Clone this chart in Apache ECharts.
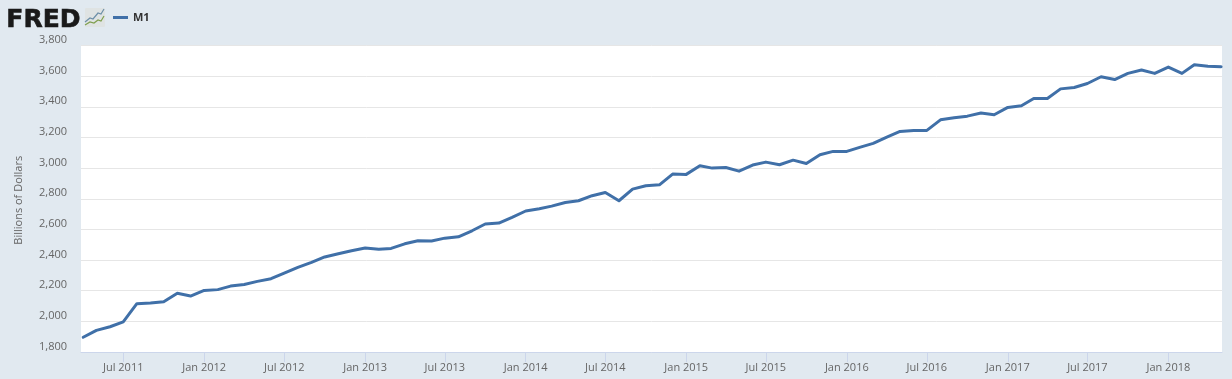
<!DOCTYPE html>
<html>
<head>
<meta charset="utf-8">
<style>html,body{margin:0;padding:0;background:#e1e9f0}#c{width:1232px;height:379px}</style>
<script src="https://cdn.jsdelivr.net/npm/echarts@6/dist/echarts.min.js"></script>
</head>
<body>
<div id="c"></div>
<script>
const seriesName = 'M1';
const yAxisTitle = 'Billions of Dollars';
const startYear = 2011, startMonth = 3; // first value is Apr 2011
const m1Values = [
  1896,1941,1965,1996,2115,2120,2128,2183,2165,
  2202,2207,2230,2241,2261,2278,2315,2352,2385,2420,2441,2461,
  2478,2470,2476,2506,2526,2524,2543,2552,2591,2635,2641,2678,
  2720,2735,2752,2776,2787,2820,2841,2787,2863,2885,2891,2961,
  2959,3015,3000,3004,2980,3020,3039,3022,3052,3030,3087,3109,
  3109,3137,3161,3202,3239,3246,3246,3315,3328,3339,3359,3348,
  3396,3407,3454,3454,3517,3526,3552,3596,3578,3618,3640,3618,
  3659,3618,3675,3664,3662
];
const xTickLabels = ['Jul 2011','Jan 2012','Jul 2012','Jan 2013','Jul 2013','Jan 2014','Jul 2014','Jan 2015','Jul 2015','Jan 2016','Jul 2016','Jan 2017','Jul 2017','Jan 2018'];
const monthNames = {Jan:0,Jul:6};
const tickTimes = xTickLabels.map(s => { const [m,y] = s.split(' '); return Date.UTC(+y, monthNames[m], 1); });
const labelByTime = new Map(tickTimes.map((t,i) => [t, xTickLabels[i]]));
const seriesData = m1Values.map((v,i) => [Date.UTC(startYear, startMonth + i, 1), v]);
const uiFont = '"Open Sans", sans-serif';

const chart = echarts.init(document.getElementById('c'), null, {renderer:'canvas'});
chart.setOption({
  animation:false,
  backgroundColor:'#e1e9f0',
  grid:{left:81, top:45.5, width:1141, height:306.5, backgroundColor:'#ffffff', show:true, borderWidth:0},
  legend:{
    left:108, top:7, itemWidth:15, itemHeight:3, icon:'rect',
    data:[seriesName],
    textStyle:{fontFamily:uiFont, fontSize:11, fontWeight:'bold', color:'#333333'},
    itemGap:5
  },
  xAxis:{
    type:'value',
    min:Date.UTC(2011,2,27),
    max:Date.UTC(2018,4,3),
    axisLine:{show:true, onZero:false, lineStyle:{color:'#ccd6eb', width:1}},
    axisTick:{show:true, length:10, lineStyle:{color:'#ccd6eb', width:1}, customValues:tickTimes},
    splitLine:{show:false},
    axisLabel:{
      customValues:tickTimes,
      formatter:v => labelByTime.get(+v) || '',
      fontFamily:uiFont, fontSize:11, color:'#666666', margin:10
    }
  },
  yAxis:{
    type:'value', min:1800, max:3800, interval:200,
    name:yAxisTitle, nameLocation:'middle', nameGap:57,
    nameTextStyle:{fontFamily:uiFont, fontSize:11, color:'#666666', padding:[0,3,0,0]},
    axisLine:{show:false}, axisTick:{show:false},
    splitLine:{show:true, lineStyle:{color:'#e6e6e6', width:1}},
    axisLabel:{
      formatter:v => v.toLocaleString('en-US'),
      fontFamily:uiFont, fontSize:11, color:'#666666', margin:14,
      verticalAlign:'bottom'
    }
  },
  series:[{
    name:seriesName, type:'line', data:seriesData,
    showSymbol:false, smooth:false, clip:true,
    lineStyle:{color:'#4070a8', width:3, join:'round', cap:'round'},
    itemStyle:{color:'#4070a8'},
    emphasis:{disabled:true}
  }],
  graphic:[
    {type:'text', left:6, top:8, style:{text:'FRED', fontFamily:'"DejaVu Sans", sans-serif', fontWeight:'bold', fontSize:25, fill:'#1a1a1a', stroke:'#1a1a1a', lineWidth:0.6}},
    {type:'rect', shape:{x:85, y:8, width:20, height:19, r:1}, style:{fill:'#dfe3e3'}},
    {type:'polyline', shape:{points:[[85,22],[90,18],[93,19],[98,13],[101,14],[104,9]]}, style:{stroke:'#6d8fa8', lineWidth:1.2, fill:null}},
    {type:'polyline', shape:{points:[[85,25],[90,22],[94,23],[98,20],[101,21],[104,16]]}, style:{stroke:'#7f9f4f', lineWidth:1.2, fill:null}}
  ]
});
</script>
</body>
</html>
